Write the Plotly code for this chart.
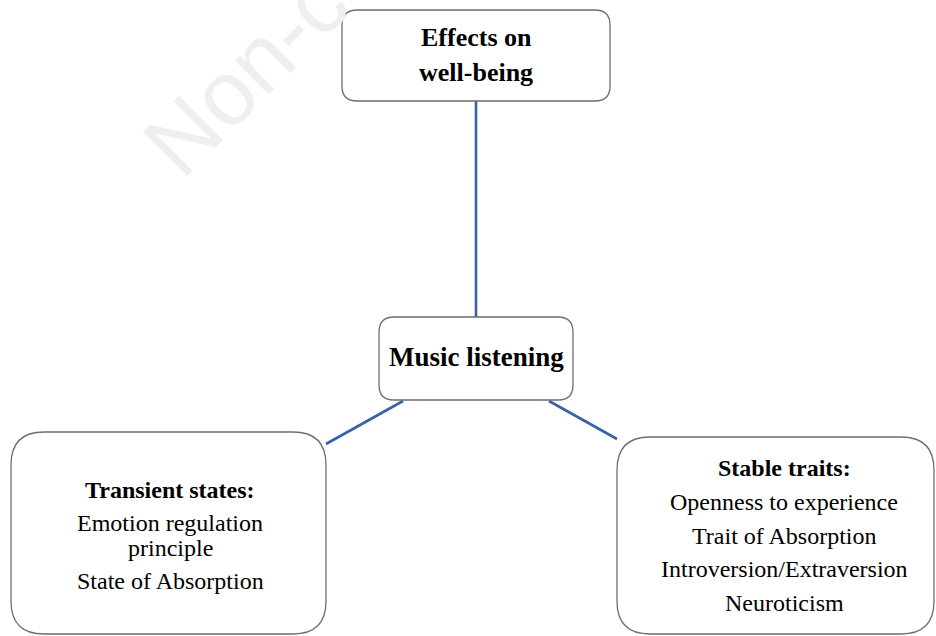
import plotly.graph_objects as go

# ---- content ----
top_lines = ["Effects on", "well-being"]
mid_lines = ["Music listening"]
left_lines = ["Transient states:", "Emotion regulation", "principle", "State of Absorption"]
right_lines = ["Stable traits:", "Openness to experience", "Trait of Absorption",
               "Introversion/Extraversion", "Neuroticism"]
watermark_text = "Non-c"

# ---- layout (pixel coordinates of the reference, y downward) ----
W, H = 936, 636
boxes = {
    "top": (342, 10, 610, 101, 15),
    "mid": (379, 317, 573, 400, 15),
    "left": (11, 432, 326, 634, 33),
    "right": (617, 437, 934, 634, 33),
}
top_y = [37, 72]
mid_y = [357]
left_y = [490, 523, 548, 581]
right_y = [468, 502, 536, 569, 603]
connectors = [((476, 101), (476, 317)), ((403, 401), (326, 444)), ((549, 401), (617, 439))]

SERIF = "Liberation Serif, Times New Roman, serif"
LINE_COLOR = "#3762a8"
BORDER = "#6e6e6e"


def rounded_rect(x0, y0, x1, y1, r):
    return (f"M {x0+r},{y0} L {x1-r},{y0} Q {x1},{y0} {x1},{y0+r} "
            f"L {x1},{y1-r} Q {x1},{y1} {x1-r},{y1} L {x0+r},{y1} "
            f"Q {x0},{y1} {x0},{y1-r} L {x0},{y0+r} Q {x0},{y0} {x0+r},{y0} Z")


fig = go.Figure()

for (a, b) in connectors:
    fig.add_trace(go.Scatter(x=[a[0], b[0]], y=[a[1], b[1]], mode="lines",
                             line=dict(color=LINE_COLOR, width=2.6),
                             hoverinfo="skip", showlegend=False))

shapes = []
for key, (x0, y0, x1, y1, r) in boxes.items():
    shapes.append(dict(type="path", path=rounded_rect(x0, y0, x1, y1, r),
                       xref="x", yref="y", line=dict(color=BORDER, width=1.3),
                       fillcolor="white", layer="above"))

annotations = []
annotations.append(dict(text=watermark_text, x=245, y=73, xref="x", yref="y",
                         showarrow=False, textangle=-45,
                         font=dict(family="Liberation Sans, Arial, sans-serif", size=91,
                                   color="#efefef"),
                         xanchor="center", yanchor="middle"))


def add_lines(lines, ys, cx, bold_first, size_bold, size_reg, all_bold=False):
    for i, (t, y) in enumerate(zip(lines, ys)):
        bold = all_bold or (bold_first and i == 0)
        annotations.append(dict(
            text=f"<b>{t}</b>" if bold else t, x=cx, y=y, xref="x", yref="y",
            showarrow=False, xanchor="center", yanchor="middle",
            font=dict(family=SERIF, size=size_bold if bold else size_reg, color="black")))


add_lines(top_lines, top_y, 476, False, 26, 26, all_bold=True)
add_lines(mid_lines, mid_y, 476, False, 27, 27, all_bold=True)
add_lines(left_lines, left_y, 170, True, 24, 24)
add_lines(right_lines, right_y, 784, True, 24, 24)

fig.update_layout(
    width=W, height=H, margin=dict(l=0, r=0, t=0, b=0),
    paper_bgcolor="white", plot_bgcolor="white",
    xaxis=dict(range=[0, W], visible=False, fixedrange=True),
    yaxis=dict(range=[H, 0], visible=False, fixedrange=True),
    shapes=shapes, annotations=annotations, showlegend=False,
)

fig.write_html(
    "out.html",
    config={"displayModeBar": False, "staticPlot": True},
    post_script="document.body.style.margin='0';document.body.style.overflow='hidden';",
)
